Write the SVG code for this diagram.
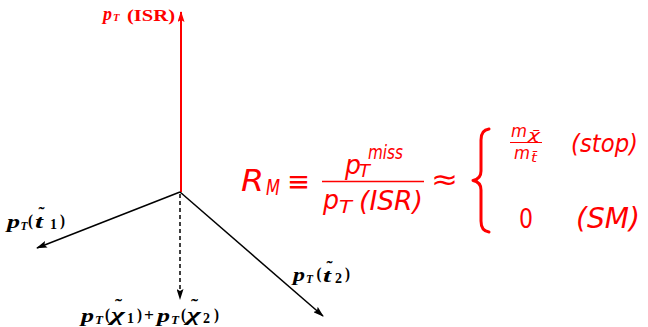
<svg xmlns="http://www.w3.org/2000/svg" width="648" height="327" viewBox="0 0 648 327">
<style>
.lb{font-family:"Liberation Serif","Times New Roman",serif;font-weight:bold;fill:#000}
.i{font-style:italic}
.red{fill:#ff0000}
.m{font-family:"DejaVu Sans",sans-serif;font-style:italic;fill:#ff0000}
.u{font-family:"DejaVu Sans",sans-serif;fill:#ff0000}
.ax{stroke:#000;stroke-width:1.5;fill:none}
</style>
<defs>
<marker id="ahk" markerUnits="userSpaceOnUse" markerWidth="11" markerHeight="7" refX="10" refY="3.5" orient="auto"><path d="M0,0 L11,3.5 L0,7 L2,3.5 z" fill="#000"/></marker>
<marker id="ahr" markerUnits="userSpaceOnUse" markerWidth="11" markerHeight="7" refX="10" refY="3.5" orient="auto"><path d="M0,0 L11,3.5 L0,7 L2,3.5 z" fill="#ff0000"/></marker>
</defs>
<g id="connectors">
<line x1="181" y1="192" x2="181" y2="12" stroke="#ff0000" stroke-width="2" marker-end="url(#ahr)"/>
<line class="ax" x1="180" y1="192" x2="37" y2="248" marker-end="url(#ahk)"/>
<line class="ax" x1="180" y1="192" x2="323" y2="316" marker-end="url(#ahk)"/>
<line class="ax" x1="180" y1="194" x2="180" y2="299" stroke-dasharray="4 3" marker-end="url(#ahk)"/>
</g>
<g id="label-isr">
<text class="lb i red" x="103" y="20" font-size="19" textLength="9" lengthAdjust="spacingAndGlyphs">p</text>
<text class="lb i red" x="113" y="20.5" font-size="11" textLength="6.5" lengthAdjust="spacingAndGlyphs">T</text>
<text class="lb red" x="127" y="20.5" font-size="16" textLength="48" lengthAdjust="spacingAndGlyphs">(ISR)</text>
</g>
<g id="label-t1">
<text class="lb i" x="7" y="228" font-size="19" textLength="13" lengthAdjust="spacingAndGlyphs">p</text>
<text class="lb i" x="20.5" y="230" font-size="12" textLength="7" lengthAdjust="spacingAndGlyphs">T</text>
<text class="lb" x="28" y="226" font-size="17" textLength="5" lengthAdjust="spacingAndGlyphs">(</text>
<text class="lb i" x="35" y="228" font-size="18" textLength="8" lengthAdjust="spacingAndGlyphs">t</text>
<text class="lb" x="38.5" y="219" font-size="16" textLength="6" lengthAdjust="spacingAndGlyphs">˜</text>
<text class="lb" x="50" y="229" font-size="15" textLength="7" lengthAdjust="spacingAndGlyphs">1</text>
<text class="lb" x="60" y="226" font-size="17" textLength="5" lengthAdjust="spacingAndGlyphs">)</text>
</g>
<g id="label-t2">
<text class="lb i" x="293" y="281" font-size="19" textLength="12" lengthAdjust="spacingAndGlyphs">p</text>
<text class="lb i" x="306" y="282.5" font-size="12" textLength="7" lengthAdjust="spacingAndGlyphs">T</text>
<text class="lb" x="316.5" y="279" font-size="17" textLength="5" lengthAdjust="spacingAndGlyphs">(</text>
<text class="lb i" x="323" y="282" font-size="18" textLength="8" lengthAdjust="spacingAndGlyphs">t</text>
<text class="lb" x="326.5" y="273" font-size="16" textLength="6" lengthAdjust="spacingAndGlyphs">˜</text>
<text class="lb" x="335" y="283" font-size="15" textLength="7" lengthAdjust="spacingAndGlyphs">2</text>
<text class="lb" x="345" y="279" font-size="17" textLength="5" lengthAdjust="spacingAndGlyphs">)</text>
</g>
<g id="label-chi">
<text class="lb i" x="81" y="322" font-size="19" textLength="13" lengthAdjust="spacingAndGlyphs">p</text>
<text class="lb i" x="95" y="324" font-size="12" textLength="8" lengthAdjust="spacingAndGlyphs">T</text>
<text class="lb" x="105" y="320" font-size="17" textLength="5" lengthAdjust="spacingAndGlyphs">(</text>
<text class="lb i" x="111" y="321" font-size="18" textLength="14" lengthAdjust="spacingAndGlyphs">χ</text>
<text class="lb" x="115" y="311" font-size="16" textLength="7" lengthAdjust="spacingAndGlyphs">˜</text>
<text class="lb" x="127" y="323" font-size="15" textLength="7" lengthAdjust="spacingAndGlyphs">1</text>
<text class="lb" x="137" y="320" font-size="17" textLength="5" lengthAdjust="spacingAndGlyphs">)</text>
<text class="lb" x="144" y="321" font-size="16" textLength="10" lengthAdjust="spacingAndGlyphs">+</text>
<text class="lb i" x="157" y="322" font-size="19" textLength="13" lengthAdjust="spacingAndGlyphs">p</text>
<text class="lb i" x="171" y="324" font-size="12" textLength="8" lengthAdjust="spacingAndGlyphs">T</text>
<text class="lb" x="181" y="320" font-size="17" textLength="5" lengthAdjust="spacingAndGlyphs">(</text>
<text class="lb i" x="187" y="321" font-size="18" textLength="14" lengthAdjust="spacingAndGlyphs">χ</text>
<text class="lb" x="191" y="311" font-size="16" textLength="7" lengthAdjust="spacingAndGlyphs">˜</text>
<text class="lb" x="203" y="323" font-size="15" textLength="7" lengthAdjust="spacingAndGlyphs">2</text>
<text class="lb" x="214" y="320" font-size="17" textLength="5" lengthAdjust="spacingAndGlyphs">)</text>
</g>
<g id="equation">
<text class="m" x="241" y="191" font-size="30" textLength="23" lengthAdjust="spacingAndGlyphs">R</text>
<text class="m" x="266" y="195" font-size="21" textLength="14" lengthAdjust="spacingAndGlyphs">M</text>
<text class="u" x="287" y="191" font-size="28" textLength="23" lengthAdjust="spacingAndGlyphs">≡</text>
<text class="m" x="345" y="174" font-size="27" textLength="16" lengthAdjust="spacingAndGlyphs">p</text>
<text class="m" x="359" y="177" font-size="18" textLength="11" lengthAdjust="spacingAndGlyphs">T</text>
<text class="m" x="368" y="159" font-size="19" textLength="35" lengthAdjust="spacingAndGlyphs">miss</text>
<line x1="322" y1="181.5" x2="424" y2="181.5" stroke="#ff0000" stroke-width="1.4"/>
<text class="m" x="323" y="209" font-size="27" textLength="16" lengthAdjust="spacingAndGlyphs">p</text>
<text class="m" x="339" y="213" font-size="18" textLength="13" lengthAdjust="spacingAndGlyphs">T</text>
<text class="m" x="359" y="210" font-size="27" textLength="64" lengthAdjust="spacingAndGlyphs">(ISR)</text>
<text class="u" x="431" y="189" font-size="28" textLength="27" lengthAdjust="spacingAndGlyphs">≈</text>
<path d="M489,129 Q481,130 481,140 L481,171 Q481,179 473,180.5 Q481,182 481,190 L481,221 Q481,231 489,232" fill="none" stroke="#ff0000" stroke-width="3" stroke-linecap="round" stroke-linejoin="round"/>
<text class="m" x="511" y="137" font-size="18" textLength="16" lengthAdjust="spacingAndGlyphs">m</text>
<text class="m" x="528" y="139" font-size="13" textLength="12" lengthAdjust="spacingAndGlyphs">χ̄</text>
<line x1="510" y1="142.5" x2="542" y2="142.5" stroke="#ff0000" stroke-width="1"/>
<text class="m" x="514" y="159" font-size="18" textLength="16" lengthAdjust="spacingAndGlyphs">m</text>
<text class="m" x="531" y="162" font-size="13" textLength="6" lengthAdjust="spacingAndGlyphs">t̄</text>
<text class="m" x="571" y="152" font-size="25" textLength="67" lengthAdjust="spacingAndGlyphs">(stop)</text>
<text class="u" x="519" y="228" font-size="27" textLength="14" lengthAdjust="spacingAndGlyphs">0</text>
<text class="m" x="576" y="228" font-size="29" textLength="64" lengthAdjust="spacingAndGlyphs">(SM)</text>
</g>
</svg>
